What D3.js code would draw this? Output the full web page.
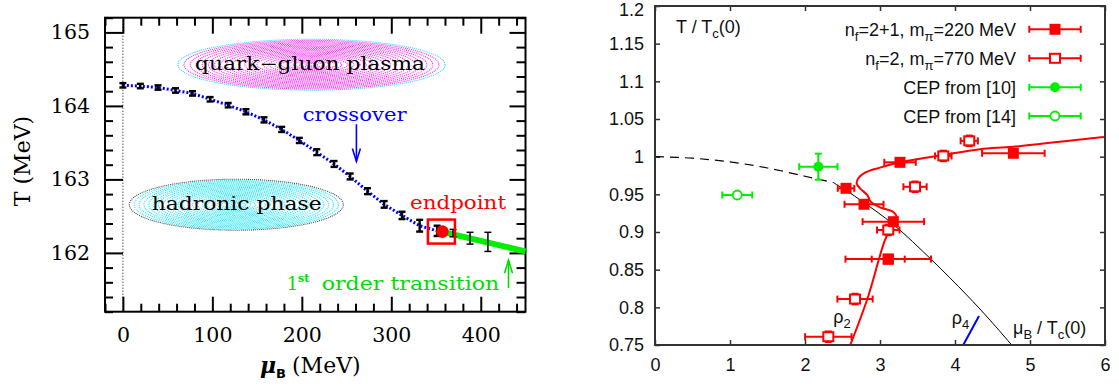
<!DOCTYPE html>
<html>
<head>
<meta charset="utf-8">
<script src="https://cdn.jsdelivr.net/npm/d3@7"></script>
<style>
body { margin: 0; background: #fff; }
</style>
</head>
<body>
<div id="chart"></div>
<script>
// ---------- left panel data ----------
let muCross = [0, 19.5, 39.3, 58.8, 77.8, 97.5, 117.7, 137.5, 157.7, 177.5, 197.2, 216.7, 236, 254, 273.4, 292, 312, 331.7, 351.2];
let tCross = [164.28, 164.27, 164.25, 164.21, 164.17, 164.09, 164.01, 163.92, 163.81, 163.68, 163.53, 163.37, 163.21, 163.04, 162.84, 162.66, 162.51, 162.37, 162.30];
let errCross = [0.03, 0.03, 0.03, 0.03, 0.03, 0.03, 0.03, 0.035, 0.035, 0.035, 0.035, 0.04, 0.04, 0.04, 0.04, 0.045, 0.05, 0.08, 0.07];
let muFirst = [369, 388, 408];
let tFirst = [162.27, 162.20, 162.15];
let errFirst = [0.05, 0.08, 0.13];
let endpointMu = 356, endpointT = 162.29;
let muGreen = [356, 450];
let tGreen = [162.29, 162.02];
let xTicksL = [0, 100, 200, 300, 400];
let yTicksL = [162, 163, 164, 165];

// ---------- right panel data ----------
let muFilled = [3.267, 2.547, 2.787, 3.178, 3.11, 3.11, 4.778];
let tFilled = [0.9925, 0.958, 0.9368, 0.9137, 0.864, 0.864, 1.0045];
let xeFilled = [0.21, 0.11, 0.26, 0.41, 0.57, 0.22, 0.417];
let muOpen = [4.19, 3.844, 3.467, 3.11, 2.667, 2.311];
let tOpen = [1.021, 1.001, 0.960, 0.9027, 0.811, 0.761];
let xeOpen = [0.115, 0.11, 0.155, 0.15, 0.235, 0.31];
let muCep10 = [2.178], tCep10 = [0.9867], xeCep10 = [0.255], yeCep10 = [0.0173];
let muCep14 = [1.097], tCep14 = [0.9491], xeCep14 = [0.2];
let muDash = [0, 0.5, 1.0, 1.5, 2.0, 2.38];
let tDash = [1.0, 0.998, 0.993, 0.985, 0.974, 0.9655];
let muBlack = [2.38, 2.55, 2.787, 3.178, 3.689, 4.156, 4.467, 4.756, 4.8];
let tBlack = [0.9655, 0.955, 0.939, 0.910, 0.863, 0.8164, 0.783, 0.75, 0.745];
let muRed = [2.58, 2.831, 3.067, 3.156, 3.222, 3.178, 3.0, 2.876, 2.831, 2.733, 2.689, 2.711, 2.8, 3.0, 3.267, 3.844, 4.333, 4.778, 5.889, 6.05];
let tRed = [0.744, 0.811, 0.8894, 0.907, 0.920, 0.9266, 0.9328, 0.9403, 0.949, 0.958, 0.9647, 0.9713, 0.9788, 0.9855, 0.9925, 1.0022, 1.0098, 1.0133, 1.0252, 1.0262];
let muRho4 = [4.11, 4.32];
let tRho4 = [0.75, 0.7885];
let xTicksR = [0, 1, 2, 3, 4, 5, 6];
let yTicksR = [0.75, 0.8, 0.85, 0.9, 0.95, 1, 1.05, 1.1, 1.15, 1.2];

const W = 1119, H = 389;
const svg = d3.select("#chart").append("svg").attr("width", W).attr("height", H);

//================ LEFT PANEL ================
const serif = "'DejaVu Serif', serif";
const xL = d3.scaleLinear().domain([-20, 450]).range([105, 525.5]);
const yL = d3.scaleLinear().domain([161.2, 165.2]).range([311.7, 17.7]);
const L = svg.append("g");

// ellipses with dotted rings
function dottedEllipse(cx, cy, rx, ry, color, edge) {
	let g = L.append("g");
	let n = 22;
	for (let i = 1; i <= n; i++) {
		let k = i / n;
		g.append("ellipse")
			.attr("cx", cx).attr("cy", cy)
			.attr("rx", rx * k).attr("ry", ry * k)
			.attr("fill", "none")
			.attr("stroke", i == n ? edge : color)
			.attr("stroke-width", 1.1)
			.attr("stroke-dasharray", "1,1");
	}
}
dottedEllipse(311.5, 64.7, 133.5, 25.5, "#ff22ff", "#22d8ff");
dottedEllipse(236.3, 204.7, 107, 25.5, "#11e8ff", "#444");

// vertical dotted line at mu = 0
L.append("line")
	.attr("x1", xL(0)).attr("x2", xL(0))
	.attr("y1", yL(165.2)).attr("y2", yL(161.2))
	.attr("stroke", "#000").attr("stroke-width", 1)
	.attr("stroke-dasharray", "1,2");

// axes (inward ticks, mirrored)
const minorX = d3.range(-20, 451, 20).filter(d => d % 100 != 0);
const minorY = d3.range(161.2, 165.21, 0.2).filter(d => Math.abs(d - Math.round(d)) > 0.01);

function styleAxis(g, size) {
	g.select(".domain").remove();
	g.selectAll(".tick line").attr("stroke", "#000").attr("stroke-width", 2);
	g.selectAll("text").attr("font-family", serif).attr("font-size", size).attr("fill", "#000");
}
let lBot = yL.range()[0], lTop = yL.range()[1], lLeft = xL.range()[0], lRight = xL.range()[1];
L.append("g").attr("transform", "translate(0," + lBot + ")")
	.call(d3.axisBottom(xL).tickValues(xTicksL).tickSize(-15).tickPadding(16).tickFormat(d3.format("d")))
	.call(g => styleAxis(g, 20.5));
L.append("g").attr("transform", "translate(0," + lBot + ")")
	.call(d3.axisBottom(xL).tickValues(minorX).tickSize(-8).tickFormat(""))
	.call(g => styleAxis(g, 20));
L.append("g").attr("transform", "translate(0," + lTop + ")")
	.call(d3.axisTop(xL).tickValues(xTicksL).tickSize(-16).tickFormat(""))
	.call(g => styleAxis(g, 20));
L.append("g").attr("transform", "translate(0," + lTop + ")")
	.call(d3.axisTop(xL).tickValues(minorX).tickSize(-8).tickFormat(""))
	.call(g => styleAxis(g, 20));
L.append("g").attr("transform", "translate(" + lLeft + ",0)")
	.call(d3.axisLeft(yL).tickValues(yTicksL).tickSize(-18).tickPadding(15).tickFormat(d3.format("d")))
	.call(g => styleAxis(g, 20.5));
L.append("g").attr("transform", "translate(" + lLeft + ",0)")
	.call(d3.axisLeft(yL).tickValues(minorY).tickSize(-8).tickFormat(""))
	.call(g => styleAxis(g, 20));
L.append("g").attr("transform", "translate(" + lRight + ",0)")
	.call(d3.axisRight(yL).tickValues(yTicksL).tickSize(-16).tickFormat(""))
	.call(g => styleAxis(g, 20));
L.append("g").attr("transform", "translate(" + lRight + ",0)")
	.call(d3.axisRight(yL).tickValues(minorY).tickSize(-9).tickFormat(""))
	.call(g => styleAxis(g, 20));
L.append("rect")
	.attr("x", lLeft).attr("y", lTop).attr("width", lRight - lLeft).attr("height", lBot - lTop)
	.attr("fill", "none").attr("stroke", "#000").attr("stroke-width", 2);

// crossover dotted line
let crossData = muCross.map((m, i) => ({mu: m, t: tCross[i], e: errCross[i]}));
L.append("path")
	.datum(crossData)
	.attr("d", d3.line().x(d => xL(d.mu)).y(d => yL(d.t)))
	.attr("fill", "none").attr("stroke", "#0000ff")
	.attr("stroke-width", 3).attr("stroke-dasharray", "2,2");

// first order line
L.append("path")
	.datum(muGreen.map((m, i) => ({mu: m, t: tGreen[i]})))
	.attr("d", d3.line().x(d => xL(d.mu)).y(d => yL(d.t)))
	.attr("fill", "none").attr("stroke", "#00ee00").attr("stroke-width", 6);

// error bars
function errL(data, w) {
	let g = L.append("g").attr("stroke", "#000").attr("stroke-width", w);
	data.forEach(d => {
		let x = xL(d.mu), y0 = yL(d.t - d.e), y1 = yL(d.t + d.e);
		g.append("line").attr("x1", x).attr("x2", x).attr("y1", y0).attr("y2", y1);
		g.append("line").attr("x1", x - 3.5).attr("x2", x + 3.5).attr("y1", y0).attr("y2", y0);
		g.append("line").attr("x1", x - 3.5).attr("x2", x + 3.5).attr("y1", y1).attr("y2", y1);
	});
}
errL(crossData, 2.4);
errL(muFirst.map((m, i) => ({mu: m, t: tFirst[i], e: errFirst[i]})), 1.5);

// endpoint
L.append("rect")
	.attr("x", xL(endpointMu) - 13.5).attr("y", yL(endpointT) - 12)
	.attr("width", 27).attr("height", 24)
	.attr("fill", "none").attr("stroke", "#ff0000").attr("stroke-width", 2.5);
L.append("circle")
	.attr("cx", xL(endpointMu) + 1).attr("cy", yL(endpointT))
	.attr("r", 6.3).attr("fill", "#ff0000");

// labels
function txt(g, x, y, s, color, size, len) {
	let t = g.append("text").attr("x", x).attr("y", y)
		.attr("font-family", serif).attr("font-size", size)
		.attr("fill", color).text(s);
	if (len) t.attr("textLength", len).attr("lengthAdjust", "spacingAndGlyphs");
	return t;
}
txt(L, 195, 70, "quark\u2212gluon plasma", "#000", 18, 230);
txt(L, 151.7, 209.5, "hadronic phase", "#000", 18, 170);
txt(L, 302.7, 120.5, "crossover", "#0000ff", 18, 104);
txt(L, 410, 208.5, "endpoint", "#ff0000", 18, 96);
let first = L.append("g").attr("fill", "#00dd00").attr("font-family", serif);
first.append("text").attr("x", 286.7).attr("y", 290).attr("font-size", 18).text("1");
first.append("text").attr("x", 298).attr("y", 282).attr("font-size", 11).attr("font-weight", "bold").text("st");
first.append("text").attr("x", 321.7).attr("y", 290).attr("font-size", 18)
	.attr("textLength", 177.6).attr("lengthAdjust", "spacingAndGlyphs").text("order transition");

// arrows
function arrow(x, y0, y1, color) {
	let g = L.append("g").attr("stroke", color).attr("stroke-width", 1.6).attr("fill", "none");
	let dir = y1 > y0 ? 1 : -1;
	g.append("line").attr("x1", x).attr("x2", x).attr("y1", y0).attr("y2", y1);
	g.append("path").attr("d", "M" + (x - 4) + "," + (y1 - dir * 13) + "L" + x + "," + y1 + "L" + (x + 4) + "," + (y1 - dir * 13));
}
arrow(xL(261), yL(163.75), yL(163.245), "#0000ff");
arrow(xL(431), yL(161.52), yL(161.9), "#00dd00");

// axis titles
let yt = L.append("text").attr("transform", "translate(30,161) rotate(-90)")
	.attr("text-anchor", "middle").attr("font-family", serif).attr("font-size", 22).attr("fill", "#000");
yt.text("T (MeV)");
let xt = L.append("text").attr("x", 260).attr("y", 373)
	.attr("font-family", serif).attr("font-size", 22).attr("fill", "#000");
xt.append("tspan").attr("font-style", "italic").attr("font-weight", "bold").text("\u03bc");
xt.append("tspan").attr("font-family", "'DejaVu Sans', sans-serif").attr("font-weight", "bold")
	.attr("font-size", 13).attr("dy", 5).text("B");
xt.append("tspan").attr("dy", -5).attr("dx", 6).text("(MeV)");

//================ RIGHT PANEL ================
const sans = "'Liberation Sans', Arial, sans-serif";
const xR = d3.scaleLinear().domain([0, 6]).range([655, 1105]);
const yR = d3.scaleLinear().domain([0.75, 1.2]).range([345, 6]);
const R = svg.append("g");

R.append("clipPath").attr("id", "clipR").append("rect")
	.attr("x", 655).attr("y", 6).attr("width", 450).attr("height", 339);

function styleR(g) {
	g.select(".domain").remove();
	g.selectAll(".tick line").attr("stroke", "#333").attr("stroke-width", 1.5);
	g.selectAll("text").attr("font-family", sans).attr("font-size", 18).attr("fill", "#111");
}
let fmt = d => String(+d.toFixed(2));
R.append("g").attr("transform", "translate(0,345)")
	.call(d3.axisBottom(xR).tickValues(xTicksR).tickSize(-5).tickPadding(13).tickFormat(fmt))
	.call(styleR);
R.append("g").attr("transform", "translate(0,6)")
	.call(d3.axisTop(xR).tickValues(xTicksR).tickSize(-5).tickFormat(""))
	.call(styleR);
R.append("g").attr("transform", "translate(655,0)")
	.call(d3.axisLeft(yR).tickValues(yTicksR).tickSize(-5).tickPadding(11).tickFormat(fmt))
	.call(styleR)
	.call(g => g.selectAll(".tick text").filter(d => d == 1.2).attr("dy", "0.5em"));
R.append("g").attr("transform", "translate(1105,0)")
	.call(d3.axisRight(yR).tickValues(yTicksR).tickSize(-5).tickFormat(""))
	.call(styleR);

const P = R.append("g").attr("clip-path", "url(#clipR)");
let curve = (mus, ts) => mus.map((m, i) => [xR(m), yR(ts[i])]);
P.append("path").attr("d", d3.line().curve(d3.curveCatmullRom)(curve(muDash, tDash)))
	.attr("fill", "none").attr("stroke", "#000").attr("stroke-width", 1.2).attr("stroke-dasharray", "9,6");
P.append("path").attr("d", d3.line().curve(d3.curveCatmullRom)(curve(muBlack, tBlack)))
	.attr("fill", "none").attr("stroke", "#000").attr("stroke-width", 1);
P.append("path").attr("d", d3.line().curve(d3.curveCatmullRom)(curve(muRed, tRed)))
	.attr("fill", "none").attr("stroke", "#ff0000").attr("stroke-width", 2);
P.append("path").attr("d", d3.line()(curve(muRho4, tRho4)))
	.attr("fill", "none").attr("stroke", "#0000ff").attr("stroke-width", 2);

const red = "#ff0000", green = "#00ee00";
function xerr(g, x0, x1, y, color) {
	g.append("line").attr("x1", x0).attr("x2", x1).attr("y1", y).attr("y2", y)
		.attr("stroke", color).attr("stroke-width", 2);
	[x0, x1].forEach(x => g.append("line").attr("x1", x).attr("x2", x).attr("y1", y - 3.5).attr("y2", y + 3.5)
		.attr("stroke", color).attr("stroke-width", 2));
}
function yerr(g, x, y0, y1, color) {
	g.append("line").attr("x1", x).attr("x2", x).attr("y1", y0).attr("y2", y1)
		.attr("stroke", color).attr("stroke-width", 2);
	[y0, y1].forEach(y => g.append("line").attr("x1", x - 3.5).attr("x2", x + 3.5).attr("y1", y).attr("y2", y)
		.attr("stroke", color).attr("stroke-width", 2));
}
function marker(g, kind, x, y, color) {
	if (kind == "fsq") g.append("rect").attr("x", x - 5.5).attr("y", y - 5.5).attr("width", 11).attr("height", 11).attr("fill", color);
	if (kind == "osq") g.append("rect").attr("x", x - 5).attr("y", y - 4.5).attr("width", 10).attr("height", 9)
		.attr("fill", "#fff").attr("stroke", color).attr("stroke-width", 2);
	if (kind == "fc") g.append("circle").attr("cx", x).attr("cy", y).attr("r", 5).attr("fill", color);
	if (kind == "oc") g.append("circle").attr("cx", x).attr("cy", y).attr("r", 4.5).attr("fill", "#fff")
		.attr("stroke", color).attr("stroke-width", 1.8);
}

// open squares (nf=2)
muOpen.forEach((m, i) => {
	xerr(P, xR(m - xeOpen[i]), xR(m + xeOpen[i]), yR(tOpen[i]), red);
	yerr(P, xR(m), yR(tOpen[i] - 0.007), yR(tOpen[i] + 0.007), red);
	marker(P, "osq", xR(m), yR(tOpen[i]), red);
});
// filled squares (nf=2+1)
muFilled.forEach((m, i) => {
	xerr(P, xR(m - xeFilled[i]), xR(m + xeFilled[i]), yR(tFilled[i]), red);
	marker(P, "fsq", xR(m), yR(tFilled[i]), red);
});
// CEP points
muCep10.forEach((m, i) => {
	xerr(P, xR(m - xeCep10[i]), xR(m + xeCep10[i]), yR(tCep10[i]), green);
	yerr(P, xR(m), yR(tCep10[i] - yeCep10[i]), yR(tCep10[i] + yeCep10[i]), green);
	marker(P, "fc", xR(m), yR(tCep10[i]), green);
});
muCep14.forEach((m, i) => {
	xerr(P, xR(m - xeCep14[i]), xR(m + xeCep14[i]), yR(tCep14[i]), green);
	marker(P, "oc", xR(m), yR(tCep14[i]), green);
});

R.append("rect").attr("x", 655).attr("y", 6).attr("width", 450).attr("height", 339)
	.attr("fill", "none").attr("stroke", "#333").attr("stroke-width", 2);

// legend
let legendKinds = ["fsq", "osq", "fc", "oc"];
let legendColors = [red, red, green, green];
let legendRows = [29.3, 58.3, 87.3, 116];
legendRows.forEach((y, i) => {
	xerr(R, 1029.3, 1080.7, y, legendColors[i]);
	marker(R, legendKinds[i], 1055, y, legendColors[i]);
});
function legText(y) {
	return R.append("text").attr("x", 1016).attr("y", y + 6.5).attr("text-anchor", "end")
		.attr("font-family", sans).attr("font-size", 18).attr("fill", "#111");
}
function sub(t, s) { t.append("tspan").attr("font-size", 13).attr("dy", 5).text(s); }
let t1 = legText(legendRows[0]);
t1.append("tspan").text("n"); sub(t1, "f");
t1.append("tspan").attr("dy", -5).text("=2+1, m"); sub(t1, "\u03c0");
t1.append("tspan").attr("dy", -5).text("=220 MeV");
let t2 = legText(legendRows[1]);
t2.append("tspan").text("n"); sub(t2, "f");
t2.append("tspan").attr("dy", -5).text("=2, m"); sub(t2, "\u03c0");
t2.append("tspan").attr("dy", -5).text("=770 MeV");
legText(legendRows[2]).text("CEP from [10]");
legText(legendRows[3]).text("CEP from [14]");

// panel texts
function rText(x, y, main, s, rest) {
	let t = R.append("text").attr("x", x).attr("y", y)
		.attr("font-family", sans).attr("font-size", 18).attr("fill", "#111");
	t.append("tspan").text(main);
	sub(t, s);
	if (rest) t.append("tspan").attr("dy", -5).text(rest);
	return t;
}
rText(676, 33.3, "T / T", "c", "(0)");
rText(1013, 334, "\u03bc", "B", " / T").call(t => { sub(t, "c"); t.append("tspan").attr("dy", -5).text("(0)"); });
rText(833.3, 323.3, "\u03c1", "2");
rText(951.7, 324, "\u03c1", "4");
</script>
</body>
</html>
